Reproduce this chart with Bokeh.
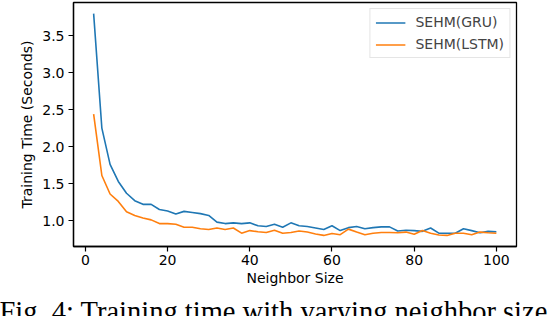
from bokeh.plotting import figure
from bokeh.models import (Range1d, FixedTicker, NumeralTickFormatter, Legend,
                          LegendItem, Title, GlobalInlineStyleSheet)
from bokeh.embed import file_html
from bokeh.resources import INLINE

neighbor_size = [2, 4, 6, 8, 10, 12, 14, 16, 18, 20,
                 22, 24, 26, 28, 30, 32, 34, 36, 38, 40,
                 42, 44, 46, 48, 50, 52, 54, 56, 58, 60,
                 62, 64, 66, 68, 70, 72, 74, 76, 78, 80,
                 82, 84, 86, 88, 90, 92, 94, 96, 98, 100]

sehm_gru = [3.80, 2.25, 1.76, 1.53, 1.37, 1.27, 1.22, 1.22, 1.15, 1.13,
            1.09, 1.125, 1.11, 1.095, 1.07, 0.98, 0.96, 0.97, 0.96, 0.97,
            0.93, 0.92, 0.95, 0.91, 0.97, 0.93, 0.92, 0.90, 0.88, 0.93,
            0.865, 0.905, 0.92, 0.89, 0.905, 0.915, 0.915, 0.86, 0.87, 0.865,
            0.855, 0.90, 0.83, 0.83, 0.83, 0.89, 0.865, 0.835, 0.855, 0.85]

sehm_lstm = [2.44, 1.61, 1.36, 1.26, 1.12, 1.07, 1.035, 1.01, 0.96, 0.96,
             0.95, 0.91, 0.91, 0.89, 0.88, 0.90, 0.88, 0.90, 0.83, 0.865,
             0.85, 0.84, 0.87, 0.83, 0.84, 0.86, 0.845, 0.82, 0.80, 0.825,
             0.81, 0.885, 0.845, 0.81, 0.83, 0.84, 0.84, 0.835, 0.845, 0.815,
             0.865, 0.83, 0.805, 0.80, 0.83, 0.83, 0.81, 0.845, 0.835, 0.83]

x_ticks = [0, 20, 40, 60, 80, 100]
y_ticks = [1.0, 1.5, 2.0, 2.5, 3.0, 3.5]

series_names = ["SEHM(GRU)", "SEHM(LSTM)"]
series_colors = ["#1f77b4", "#ff7f0e"]

caption = "Fig. 4: Training time with varying neighbor size"

FONT = "DejaVu Sans"
FS = "14px"

p = figure(frame_width=443, frame_height=244, output_backend="svg",
           toolbar_location=None,
           x_range=Range1d(-2.9, 104.9), y_range=Range1d(0.65, 3.95),
           min_border_left=73, min_border_right=34, min_border_top=2,
           min_border_bottom=40)
p.stylesheets = [GlobalInlineStyleSheet(css="html, body { margin: 0 !important; padding: 0; overflow: hidden; }")]
p.background_fill_color = "white"
p.border_fill_color = "white"
p.xgrid.visible = False
p.ygrid.visible = False
p.outline_line_color = "black"
p.outline_line_width = 1.3

r1 = p.line(neighbor_size, sehm_gru, line_color=series_colors[0], line_width=1.6)
r2 = p.line(neighbor_size, sehm_lstm, line_color=series_colors[1], line_width=1.6)

for ax in (p.xaxis[0], p.yaxis[0]):
    ax.axis_line_color = "black"
    ax.axis_line_width = 1.3
    ax.major_tick_line_color = "black"
    ax.major_tick_line_width = 1.2
    ax.major_tick_out = 5
    ax.major_tick_in = 0
    ax.minor_tick_line_color = None
    ax.major_label_text_font = FONT
    ax.major_label_text_font_size = FS
    ax.major_label_text_color = "black"
    ax.axis_label_text_font = FONT
    ax.axis_label_text_font_size = FS
    ax.axis_label_text_font_style = "normal"
    ax.axis_label_text_color = "black"

p.xaxis.ticker = FixedTicker(ticks=x_ticks)
p.yaxis.ticker = FixedTicker(ticks=y_ticks)
p.yaxis.formatter = NumeralTickFormatter(format="0.0")
p.xaxis.axis_label = "Neighbor Size"
p.yaxis.axis_label = "Training Time (Seconds)"
p.xaxis.major_label_standoff = 3
p.xaxis.axis_label_standoff = 2
p.yaxis.major_label_standoff = 4
p.yaxis.axis_label_standoff = 4

legend = Legend(items=[LegendItem(label=series_names[0], renderers=[r1]),
                       LegendItem(label=series_names[1], renderers=[r2])],
                location="top_right", margin=6, padding=5, spacing=6,
                glyph_width=30, glyph_height=15, label_height=15,
                label_standoff=10,
                label_text_font=FONT, label_text_font_size=FS,
                border_line_color="#cccccc", border_line_width=1,
                background_fill_alpha=0.8)
p.add_layout(legend)

p.add_layout(Title(text=caption, align="left", offset=-74, standoff=11,
                   text_font="Liberation Serif", text_font_size="28.5px",
                   text_font_style="normal", text_color="black"), "below")

open("out.html", "w").write(file_html(p, INLINE))
